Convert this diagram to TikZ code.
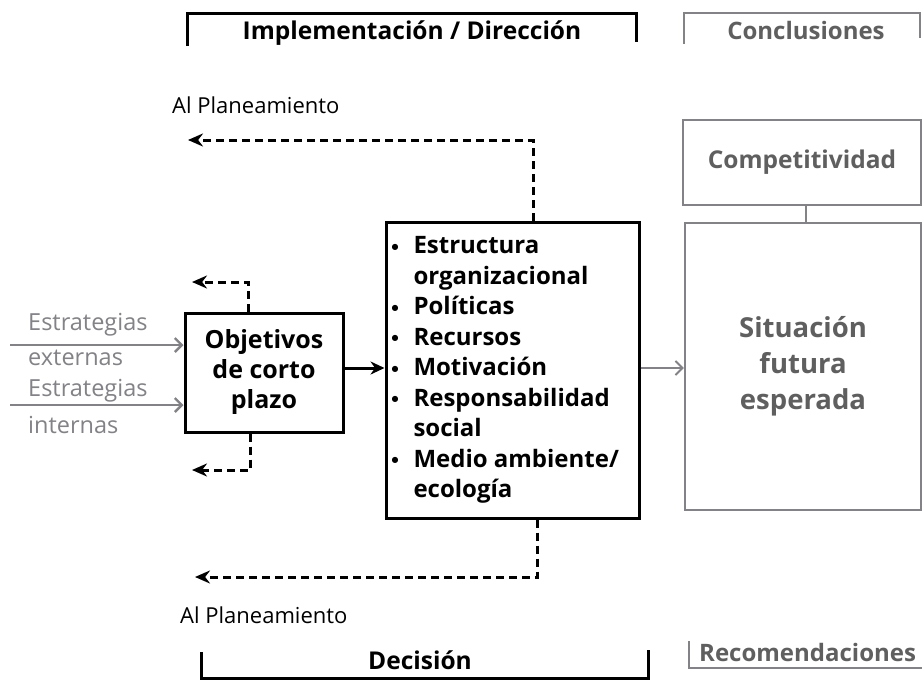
\documentclass[tikz,border=0pt]{standalone}
\usepackage{fontspec}
\setmainfont{Open Sans}
\newfontfamily\djfont{DejaVu Sans}
\usetikzlibrary{arrows.meta}
\definecolor{gr}{RGB}{130,130,135}
\definecolor{gt}{RGB}{95,95,95}
\newcommand{\bul}{\makebox[23pt][l]{\hspace*{1pt}\raisebox{4.5pt}{\djfont\fontsize{8}{8}\selectfont ●}}}
\begin{document}
\begin{tikzpicture}[x=1pt,y=-1pt,
  box/.style={draw, line width=3pt, inner sep=0pt},
  graybox/.style={draw=gr, line width=2.2pt, inner sep=0pt},
  bracket/.style={line width=3pt},
  graybracket/.style={draw=gr, line width=2.2pt},
  dashline/.style={line width=3pt, dash pattern=on 8pt off 5pt, -{Stealth[length=15pt,width=13pt]}},
  solidarrow/.style={line width=3pt, -{Stealth[length=14pt,width=13pt]}},
  grayarrow/.style={draw=gr, line width=2.4pt, -{Straight Barb[length=7pt,width=14pt]}},
  title/.style={font=\fontsize{24.5}{28}\selectfont\bfseries, inner sep=0pt},
  graytitle/.style={font=\fontsize{24}{28}\selectfont\bfseries, text=gt, inner sep=0pt},
  plain/.style={font=\fontsize{22}{26}\selectfont, inner sep=0pt},
  graylabel/.style={font=\fontsize{23.5}{26}\selectfont, text=gr, inner sep=0pt, anchor=west}
]
\useasboundingbox[fill=white] (0,0) rectangle (924,680);

% Top brackets
\node[title] (impl) at (412,33) {Implementación / Dirección};
\draw[bracket] (187,46) -- (187,13) -- (636,13) -- (636,42);
\node[graytitle] (concl) at (806,30) {Conclusiones};
\draw[graybracket] (684,44) -- (684,13) -- (920,13) -- (920,38);

% Al Planeamiento top
\node[plain, anchor=west] (ap1) at (172,105) {Al Planeamiento};

% Boxes
\node[box, minimum width=158pt, minimum height=119pt] (obj) at (264,372.5)
  {\parbox{150pt}{\centering\fontsize{25}{30}\selectfont\bfseries Objetivos\\de corto\\plazo}};

\node[box, minimum width=253pt, minimum height=296pt] (mid) at (512.5,370)
  {\parbox{244pt}{\fontsize{24}{30.5}\selectfont\bfseries
   \bul Estructura\\
   \hspace*{23pt}organizacional\\
   \bul Políticas\\
   \bul Recursos\\
   \bul Motivación\\
   \bul Responsabilidad\\
   \hspace*{23pt}social\\
   \bul Medio ambiente/\\
   \hspace*{23pt}ecología}};

\node[graybox, minimum width=238pt, minimum height=85pt] (comp) at (802,162.5)
  {\fontsize{24.5}{28}\selectfont\bfseries\color{gt}Competitividad};
\node[graybox, minimum width=236pt, minimum height=287pt] (sit) at (803,366.5)
  {\parbox{220pt}{\centering\fontsize{27.5}{36}\selectfont\bfseries\color{gt}Situación\\futura\\esperada}};
\draw[draw=gr, line width=2.2pt] (comp.south -| 806,0) -- (sit.north -| 806,0);

% Strategy labels and arrows
\node[graylabel] (ee1) at (28,325) {Estrategias};
\node[graylabel] (ee2) at (28,358) {externas};
\node[graylabel] (ei1) at (28,391) {Estrategias};
\node[graylabel] (ei2) at (28,425) {internas};
\coordinate (s1) at (10,345);
\coordinate (s2) at (10,405);
\draw[grayarrow] (s1) -- (s1 -| obj.west);
\draw[grayarrow] (s2) -- (s2 -| obj.west);

% Solid arrows
\draw[solidarrow] (obj.east |- 0,368) -- (mid.west |- 0,368);
\draw[grayarrow, line width=2pt] (mid.east |- 0,368) -- (sit.west |- 0,368);

% Dashed feedback arrows
\coordinate (e1) at (188,140);
\coordinate (e2) at (192,282);
\coordinate (e3) at (192,470);
\coordinate (e4) at (195,577);
\draw[dashline] (mid.north -| 533,0) |- (e1);
\draw[dashline] (obj.north -| 248,0) |- (e2);
\draw[dashline] (obj.south -| 250,0) |- (e3);
\draw[dashline] (mid.south -| 537,0) |- (e4);

% Bottom
\node[plain, anchor=west] (ap2) at (180,615) {Al Planeamiento};
\node[title] (dec) at (420,660) {Decisión};
\draw[bracket] (201,652) -- (201,678) -- (648,678) -- (648,650);
\node[graytitle, anchor=west] (rec) at (699,652) {Recomendaciones};
\draw[graybracket] (689,641) -- (689,668) -- (922,668);
\end{tikzpicture}
\end{document}
